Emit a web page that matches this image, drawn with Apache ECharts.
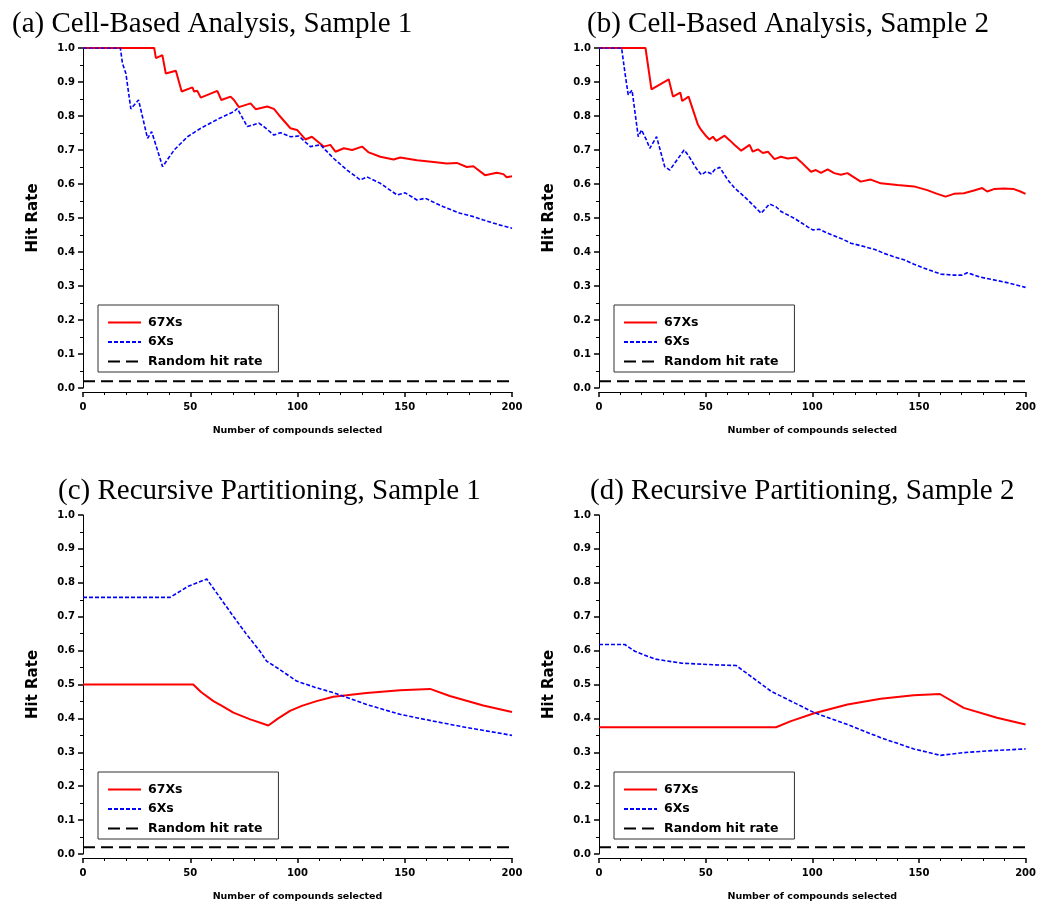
<!DOCTYPE html>
<html>
<head>
<meta charset="utf-8">
<script src="https://cdn.jsdelivr.net/npm/echarts@6/dist/echarts.min.js"></script>
<style>
  html, body { margin: 0; padding: 0; background: #fff; }
  #chart { width: 1039px; height: 903px; }
</style>
</head>
<body>
<div id="chart"></div>
<script>
// panel titles
const panelTitles = [
  '(a) Cell-Based Analysis, Sample 1',
  '(b) Cell-Based Analysis, Sample 2',
  '(c) Recursive Partitioning, Sample 1',
  '(d) Recursive Partitioning, Sample 2'
]
const seriesNames = ['67Xs', '6Xs', 'Random hit rate']
const xTicks = [0, 50, 100, 150, 200]
const yTicks = [0, 0.1, 0.2, 0.3, 0.4, 0.5, 0.6, 0.7, 0.8, 0.9, 1.0]
const randomHitRate = 0.02

// (a) cell-based, sample 1  [compounds selected, hit rate]
const cellS1Hits67 = [
  [0, 1], [33.2, 1], [34, 0.970], [37, 0.979], [38.6, 0.925], [43.3, 0.933], [46, 0.872],
  [51, 0.884], [51.8, 0.872], [53.3, 0.874], [54.9, 0.854], [62.6, 0.874], [64.5, 0.847],
  [68.8, 0.857], [70.4, 0.847], [72.7, 0.826], [78.1, 0.837], [80.5, 0.820], [85.9, 0.828],
  [89, 0.821], [91.3, 0.803], [96.7, 0.764], [99.8, 0.759], [103.7, 0.731], [106.7, 0.739],
  [112.2, 0.710], [115.3, 0.715], [117.7, 0.695], [121.6, 0.705], [125.5, 0.700], [130.1, 0.710],
  [133.2, 0.693], [138.6, 0.680], [144.8, 0.672], [147.9, 0.678], [155.7, 0.670], [163.4, 0.665],
  [169.6, 0.660], [174.3, 0.662], [178.9, 0.650], [182, 0.652], [187.4, 0.626], [192.9, 0.633],
  [196, 0.629], [197.5, 0.620], [200, 0.623]
]
const cellS1Hits6 = [
  [0, 1], [17.4, 1], [18.4, 0.955], [20, 0.925], [22.3, 0.821], [25.9, 0.847], [30.1, 0.734],
  [32, 0.754], [33.2, 0.730], [37.1, 0.651], [42.5, 0.700], [48.7, 0.739], [54.9, 0.764],
  [62.6, 0.790], [70.4, 0.813], [71.9, 0.822], [76.6, 0.769], [82, 0.779], [84.3, 0.769],
  [89, 0.744], [92.1, 0.751], [96.7, 0.739], [100.6, 0.741], [106, 0.710], [110.7, 0.715],
  [116.9, 0.675], [123.1, 0.641], [129.3, 0.612], [132.4, 0.621], [138.6, 0.602], [146.4, 0.568],
  [150.2, 0.574], [155.7, 0.553], [159.6, 0.558], [168, 0.533], [175.8, 0.514], [182, 0.504],
  [186.7, 0.494], [194.5, 0.479], [200, 0.470]
]

// (b) cell-based, sample 2
const cellS2Hits67 = [
  [0, 1], [21.8, 1], [24.6, 0.878], [32.7, 0.908], [34.7, 0.857], [38.1, 0.869], [39, 0.844],
  [42, 0.857], [46.4, 0.774], [47.9, 0.759], [50.2, 0.741], [51.8, 0.731], [53.4, 0.739],
  [55, 0.727], [58.9, 0.742], [61.2, 0.729], [63.6, 0.715], [66.7, 0.698], [70.6, 0.715],
  [72.1, 0.695], [74.5, 0.702], [76.8, 0.691], [79.2, 0.695], [82.3, 0.673], [85.3, 0.680],
  [88.5, 0.675], [92.4, 0.678], [94.7, 0.665], [99.4, 0.636], [101.7, 0.641], [104.1, 0.633],
  [107.2, 0.643], [110.3, 0.632], [113.4, 0.627], [116.5, 0.632], [122.7, 0.607], [127.4, 0.613],
  [132.1, 0.602], [139.9, 0.597], [147.7, 0.593], [153.9, 0.582], [158.6, 0.571], [162.5, 0.563],
  [166.4, 0.571], [171.1, 0.573], [175.8, 0.581], [179.7, 0.588], [182, 0.578], [185.2, 0.585],
  [189.9, 0.587], [194.5, 0.585], [197.6, 0.578], [200, 0.571]
]
const cellS2Hits6 = [
  [0, 1], [10.6, 1], [12.1, 0.930], [13.7, 0.862], [15.5, 0.876], [18.4, 0.739], [19.9, 0.759],
  [22.3, 0.729], [23.8, 0.705], [27, 0.739], [30.8, 0.651], [33.2, 0.641], [39.9, 0.700],
  [41.8, 0.685], [45.6, 0.646], [48, 0.627], [50.3, 0.637], [52.7, 0.630], [54.2, 0.642],
  [56.6, 0.649], [60.4, 0.612], [63.6, 0.588], [66.7, 0.571], [69.8, 0.553], [76, 0.514],
  [79.9, 0.541], [83, 0.533], [85.4, 0.519], [91.6, 0.499], [97.8, 0.474], [100.2, 0.465],
  [103.3, 0.467], [107.2, 0.455], [113.4, 0.440], [118.1, 0.426], [124.3, 0.416], [129, 0.408],
  [133.7, 0.396], [138.3, 0.386], [143, 0.377], [147.7, 0.364], [153.9, 0.349], [160.2, 0.335],
  [166.4, 0.332], [170.3, 0.332], [172.6, 0.339], [178.8, 0.326], [185.1, 0.318], [191.3, 0.310],
  [200, 0.296]
]

// (c) recursive partitioning, sample 1
const rpS1Hits67 = [
  [0, 0.5], [51.4, 0.5], [55, 0.478], [60.8, 0.451], [65, 0.436], [70.1, 0.417], [78, 0.397],
  [86.4, 0.379], [91, 0.400], [96.5, 0.422], [102, 0.437], [108.9, 0.451], [116.7, 0.464],
  [122.9, 0.468], [132.2, 0.475], [147.8, 0.483], [161.8, 0.487], [171, 0.466], [186.6, 0.438],
  [200, 0.419]
]
const rpS1Hits6 = [
  [0, 0.757], [40.6, 0.757], [49.1, 0.790], [57.7, 0.811], [70.1, 0.701], [76, 0.650],
  [82.5, 0.598], [85.6, 0.569], [91.8, 0.544], [99.6, 0.510], [108, 0.492], [116.7, 0.476],
  [132.2, 0.441], [147.8, 0.412], [163.3, 0.392], [178.9, 0.373], [200, 0.350]
]

// (d) recursive partitioning, sample 2
const rpS2Hits67 = [
  [0, 0.374], [83, 0.374], [90, 0.392], [100.9, 0.415], [116.5, 0.441], [132.1, 0.458],
  [147.6, 0.468], [159.8, 0.472], [171, 0.431], [186.6, 0.402], [200, 0.382]
]
const rpS2Hits6 = [
  [0, 0.618], [12.1, 0.618], [16.8, 0.598], [26.2, 0.575], [38.6, 0.563], [54.2, 0.558],
  [64.3, 0.556], [80.7, 0.480], [100.9, 0.417], [116.5, 0.382], [132.1, 0.343], [147.6, 0.310],
  [160.1, 0.291], [171, 0.299], [181.9, 0.304], [200, 0.310]
]

const panelData = [
  [cellS1Hits67, cellS1Hits6],
  [cellS2Hits67, cellS2Hits6],
  [rpS1Hits67, rpS1Hits6],
  [rpS2Hits67, rpS2Hits6]
]

// plot areas of the four panels
const panels = [
  { left: 83, top: 48, width: 429, titleLeft: 12, titleTop: 10 },
  { left: 599, top: 48, width: 428, titleLeft: 587, titleTop: 10 },
  { left: 83, top: 515, width: 429, titleLeft: 58, titleTop: 477 },
  { left: 599, top: 515, width: 428, titleLeft: 590, titleTop: 477 }
]
const plotHeight = 340
const tickFont = 'DejaVu Sans'

const chartObj = echarts.init(document.getElementById('chart'))

const option = {
  animation: false,
  backgroundColor: '#fff',
  title: panels.map((p, i) => ({
    text: panelTitles[i],
    left: p.titleLeft,
    top: p.titleTop,
    padding: 0,
    textStyle: {
      fontFamily: 'Liberation Serif',
      fontSize: 29,
      fontWeight: 'normal',
      color: '#000'
    }
  })),
  grid: panels.map(p => ({
    left: p.left,
    top: p.top,
    width: p.width,
    height: plotHeight,
    containLabel: false
  })),
  legend: panels.map(p => ({
    data: seriesNames,
    orient: 'vertical',
    left: p.left + 15,
    top: p.top + 257,
    padding: [11, 16, 4, 9],
    itemWidth: 33,
    itemHeight: 12,
    itemGap: 6.5,
    borderColor: '#333',
    borderWidth: 1,
    backgroundColor: '#fff',
    selectedMode: false,
    // hide the circle marker, keep only the line sample
    itemStyle: { opacity: 0 },
    textStyle: {
      fontFamily: tickFont,
      fontWeight: 'bold',
      fontSize: 12.5,
      color: '#000',
      padding: [0, 0, 0, 2]
    }
  })),
  xAxis: panels.map((p, i) => ({
    type: 'value',
    gridIndex: i,
    min: xTicks[0],
    max: xTicks[xTicks.length - 1],
    interval: 50,
    offset: 4,
    name: 'Number of compounds selected',
    nameLocation: 'middle',
    nameGap: 34,
    nameTextStyle: {
      fontFamily: tickFont,
      fontWeight: 'bold',
      fontSize: 9.5,
      color: '#000'
    },
    axisLine: { onZero: false, lineStyle: { color: '#000', width: 1 } },
    axisTick: { length: 5, lineStyle: { color: '#000', width: 1.5 } },
    minorTick: { show: true, splitNumber: 5, length: 3, lineStyle: { color: '#000', width: 1 } },
    axisLabel: {
      margin: 10,
      fontFamily: tickFont,
      fontWeight: 'bold',
      fontSize: 10,
      color: '#000'
    },
    splitLine: { show: false }
  })),
  yAxis: panels.map((p, i) => ({
    type: 'value',
    gridIndex: i,
    min: yTicks[0],
    max: yTicks[yTicks.length - 1],
    interval: 0.1,
    offset: 2,
    name: 'Hit Rate',
    nameLocation: 'middle',
    nameGap: 40,
    nameTextStyle: {
      fontFamily: tickFont,
      fontWeight: 'bold',
      fontSize: 15,
      color: '#000'
    },
    axisLine: { show: true, lineStyle: { color: '#000', width: 1 } },
    axisTick: { show: true, length: 5, lineStyle: { color: '#000', width: 1.5 } },
    minorTick: { show: true, splitNumber: 2, length: 3, lineStyle: { color: '#000', width: 1 } },
    axisLabel: {
      margin: 6,
      fontFamily: tickFont,
      fontWeight: 'bold',
      fontSize: 10,
      color: '#000',
      formatter: v => v.toFixed(1)
    },
    splitLine: { show: false }
  })),
  series: []
}

panelData.forEach((d, i) => {
  option.series.push(
    {
      name: seriesNames[0],
      type: 'line',
      xAxisIndex: i,
      yAxisIndex: i,
      symbol: 'none',
      data: d[0],
      lineStyle: { color: '#ff0000', width: 2 },
      itemStyle: { color: '#ff0000' },
      z: 2
    },
    {
      name: seriesNames[1],
      type: 'line',
      xAxisIndex: i,
      yAxisIndex: i,
      symbol: 'none',
      data: d[1],
      lineStyle: { color: '#0000ff', width: 1.6, type: [4, 2] },
      itemStyle: { color: '#0000ff' },
      z: 3
    },
    {
      name: seriesNames[2],
      type: 'line',
      xAxisIndex: i,
      yAxisIndex: i,
      symbol: 'none',
      data: [[xTicks[0], randomHitRate], [xTicks[xTicks.length - 1], randomHitRate]],
      lineStyle: { color: '#000', width: 2, type: [12, 6] },
      itemStyle: { color: '#000' },
      z: 2
    }
  )
})

chartObj.setOption(option, true)
</script>
</body>
</html>
